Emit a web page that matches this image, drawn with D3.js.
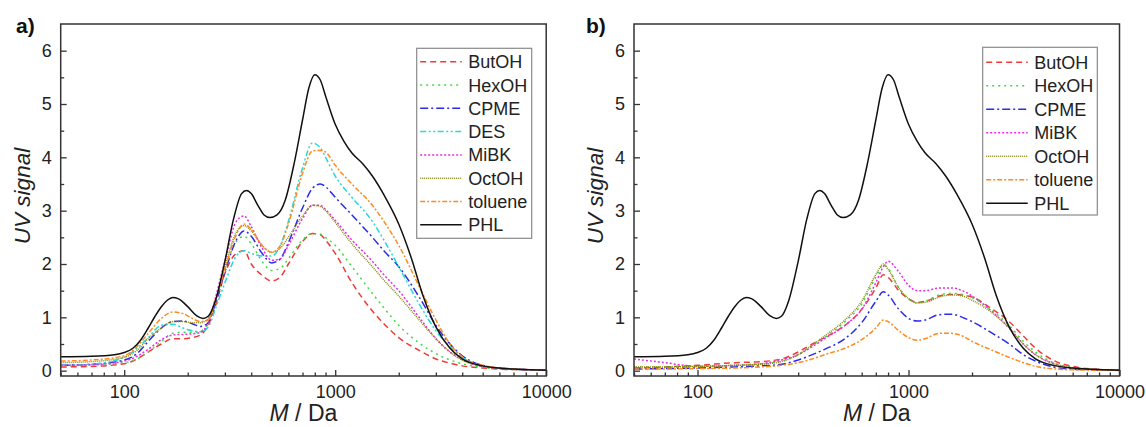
<!DOCTYPE html>
<html>
<head>
<meta charset="utf-8">
<script src="https://cdn.jsdelivr.net/npm/d3@7"></script>
<style>
  html, body { margin: 0; padding: 0; background: #fff; }
  svg { display: block; font-family: "Liberation Sans", Arial, sans-serif; }
</style>
</head>
<body>
<script>
// ---- DATA ----
const seriesNames = ['ButOH', 'HexOH', 'CPME', 'DES', 'MiBK', 'OctOH', 'toluene', 'PHL'];

// PHL (raw material) curve, shared by both panels
const phlMass = [50, 70, 90, 100, 110, 120, 130, 140, 150, 160, 170, 180, 200, 220, 236, 250, 270, 300, 330, 360, 380, 400, 430, 460, 490, 530, 580, 640, 700, 750, 800, 850, 900, 1000, 1100, 1200, 1350, 1500, 1700, 2000, 2300, 2600, 3000, 3500, 4000, 5000, 6000, 7000, 8000, 10000];
const phl = [0.26, 0.27, 0.30, 0.34, 0.42, 0.58, 0.80, 1.02, 1.20, 1.32, 1.37, 1.35, 1.20, 1.03, 0.98, 1.02, 1.30, 2.05, 2.85, 3.32, 3.38, 3.32, 3.10, 2.92, 2.87, 2.92, 3.20, 3.90, 4.70, 5.30, 5.55, 5.45, 5.15, 4.62, 4.30, 4.08, 3.88, 3.65, 3.30, 2.75, 2.10, 1.42, 0.82, 0.42, 0.22, 0.09, 0.05, 0.03, 0.02, 0.01];

// panel a)
const massA = [50, 70, 100, 115, 130, 150, 170, 190, 210, 230, 250, 270, 300, 340, 370, 400, 450, 500, 550, 600, 700, 780, 850, 900, 1000, 1200, 1500, 1700, 2000, 2500, 3000, 3500, 4000, 5000, 7000, 10000];
const butohA = [0.07, 0.08, 0.13, 0.22, 0.35, 0.50, 0.60, 0.60, 0.62, 0.67, 0.85, 1.20, 1.82, 2.20, 2.25, 2.00, 1.79, 1.68, 1.76, 2.00, 2.42, 2.57, 2.55, 2.45, 2.20, 1.65, 1.12, 0.88, 0.62, 0.38, 0.22, 0.14, 0.09, 0.05, 0.02, 0.01];
const hexohA = [0.10, 0.11, 0.15, 0.22, 0.35, 0.55, 0.70, 0.72, 0.72, 0.74, 0.90, 1.30, 1.90, 2.42, 2.52, 2.38, 2.05, 1.88, 1.92, 2.10, 2.45, 2.57, 2.56, 2.50, 2.35, 1.95, 1.45, 1.18, 0.85, 0.52, 0.32, 0.20, 0.13, 0.06, 0.02, 0.01];
const cpmeA = [0.10, 0.12, 0.20, 0.32, 0.55, 0.80, 0.92, 0.93, 0.88, 0.83, 0.90, 1.25, 1.85, 2.45, 2.62, 2.52, 2.20, 2.02, 2.10, 2.40, 3.05, 3.42, 3.50, 3.45, 3.25, 2.92, 2.50, 2.25, 1.95, 1.38, 0.85, 0.50, 0.28, 0.10, 0.03, 0.01];
const desA = [0.10, 0.12, 0.25, 0.42, 0.62, 0.85, 0.87, 0.80, 0.75, 0.73, 0.82, 1.15, 1.65, 2.15, 2.25, 2.20, 2.15, 2.15, 2.35, 2.80, 3.80, 4.27, 4.18, 4.00, 3.65, 3.25, 2.80, 2.45, 1.95, 1.25, 0.75, 0.45, 0.25, 0.09, 0.03, 0.01];
const mibkA = [0.10, 0.11, 0.18, 0.27, 0.40, 0.58, 0.67, 0.68, 0.69, 0.72, 0.90, 1.35, 2.05, 2.80, 2.90, 2.70, 2.30, 2.07, 2.10, 2.35, 2.85, 3.10, 3.10, 3.02, 2.82, 2.45, 2.05, 1.80, 1.50, 1.00, 0.60, 0.35, 0.20, 0.08, 0.03, 0.01];
const octohA = [0.15, 0.17, 0.25, 0.38, 0.60, 0.80, 0.92, 0.92, 0.90, 0.90, 0.98, 1.30, 1.95, 2.60, 2.72, 2.62, 2.35, 2.22, 2.30, 2.50, 2.90, 3.10, 3.08, 3.00, 2.78, 2.38, 1.95, 1.70, 1.40, 0.95, 0.60, 0.35, 0.20, 0.08, 0.03, 0.01];
const tolueneA = [0.18, 0.20, 0.28, 0.45, 0.70, 0.98, 1.10, 1.07, 0.98, 0.92, 0.95, 1.30, 1.90, 2.55, 2.75, 2.65, 2.35, 2.22, 2.35, 2.75, 3.70, 4.12, 4.13, 4.10, 3.85, 3.50, 3.10, 2.80, 2.35, 1.58, 0.95, 0.50, 0.26, 0.10, 0.03, 0.01];

// panel b)
const massB = [50, 70, 100, 150, 200, 250, 300, 350, 400, 500, 600, 700, 760, 800, 900, 1000, 1100, 1200, 1400, 1600, 1800, 2000, 2500, 3000, 3500, 4000, 5000, 6000, 7000, 10000];
const butohB = [0.05, 0.07, 0.10, 0.15, 0.17, 0.22, 0.35, 0.50, 0.62, 0.85, 1.15, 1.55, 1.80, 1.75, 1.50, 1.35, 1.28, 1.30, 1.40, 1.43, 1.42, 1.38, 1.15, 0.92, 0.65, 0.42, 0.17, 0.08, 0.04, 0.01];
const hexohB = [0.07, 0.07, 0.08, 0.10, 0.13, 0.18, 0.30, 0.48, 0.62, 0.92, 1.25, 1.75, 1.98, 1.92, 1.55, 1.35, 1.27, 1.30, 1.42, 1.45, 1.43, 1.37, 1.12, 0.85, 0.55, 0.35, 0.13, 0.06, 0.03, 0.01];
const cpmeB = [0.03, 0.04, 0.05, 0.07, 0.09, 0.12, 0.20, 0.30, 0.40, 0.60, 0.90, 1.30, 1.48, 1.42, 1.15, 0.98, 0.93, 0.95, 1.05, 1.06, 1.00, 0.92, 0.70, 0.50, 0.30, 0.18, 0.06, 0.03, 0.02, 0.01];
const mibkB = [0.22, 0.15, 0.08, 0.10, 0.13, 0.20, 0.30, 0.45, 0.60, 0.85, 1.15, 1.65, 1.95, 2.05, 1.85, 1.60, 1.50, 1.50, 1.55, 1.55, 1.50, 1.40, 1.10, 0.80, 0.50, 0.30, 0.12, 0.05, 0.03, 0.01];
const octohB = [0.07, 0.07, 0.08, 0.10, 0.12, 0.17, 0.30, 0.48, 0.65, 0.95, 1.30, 1.80, 2.00, 1.90, 1.55, 1.35, 1.27, 1.28, 1.38, 1.42, 1.40, 1.32, 1.08, 0.80, 0.50, 0.30, 0.12, 0.05, 0.03, 0.01];
const tolueneB = [0.03, 0.03, 0.04, 0.05, 0.07, 0.10, 0.15, 0.22, 0.30, 0.42, 0.58, 0.80, 0.95, 0.92, 0.75, 0.62, 0.57, 0.60, 0.70, 0.70, 0.65, 0.55, 0.38, 0.25, 0.15, 0.08, 0.03, 0.015, 0.01, 0.005];

const xMajor = [100, 1000, 10000];
const yMajor = [0, 1, 2, 3, 4, 5, 6];

// line styles (Origin-like)
const styles = {
  ButOH:   { color: '#f03a3a', dash: '6,4' },
  HexOH:   { color: '#3ddc3d', dash: '2,4' },
  CPME:    { color: '#2b2bea', dash: '8,3,2,3' },
  DES:     { color: '#22dada', dash: '6,2.5,2,2.5,2,2.5' },
  MiBK:    { color: '#ea2aea', dash: '2,2' },
  OctOH:   { color: '#8a8a12', dash: '1,1' },
  toluene: { color: '#ff8a1e', dash: '5,2,2,2' },
  PHL:     { color: '#111111', dash: null }
};

// ---- CHART ----
const W = 1146, H = 427;
const svg = d3.select('body').append('svg').attr('width', W).attr('height', H);

function drawPanel(cfg) {
  const left = cfg.left, right = cfg.left + 485.5, top = 24, bottom = 376;
  const x = d3.scaleLog().domain([50, 10000]).range([left, right]);
  const y = d3.scaleLinear().domain([-0.1, 6.5]).range([bottom, top]);
  const g = svg.append('g');

  const clipId = 'clip-' + cfg.tag;
  g.append('clipPath').attr('id', clipId)
    .append('rect').attr('x', left).attr('y', top).attr('width', right - left).attr('height', bottom - top);

  // minor ticks
  const xMinor = [];
  [10, 100, 1000].forEach(d => { for (let k = 2; k <= 9; k++) if (d * k >= 50) xMinor.push(d * k); });
  g.append('g').attr('transform', `translate(0,${bottom})`)
    .call(d3.axisBottom(x).tickValues(xMinor).tickSize(-3.5).tickFormat(''))
    .call(a => a.select('.domain').remove());
  g.append('g').attr('transform', `translate(${left},0)`)
    .call(d3.axisLeft(y).tickValues(d3.range(0.5, 6.5, 1)).tickSize(-3.5).tickFormat(''))
    .call(a => a.select('.domain').remove());

  // major ticks
  const xAx = g.append('g').attr('transform', `translate(0,${bottom})`)
    .call(d3.axisBottom(x).tickValues(xMajor).tickSize(-6).tickPadding(9).tickFormat(d3.format('d')));
  const yAx = g.append('g').attr('transform', `translate(${left},0)`)
    .call(d3.axisLeft(y).tickValues(yMajor).tickSize(-6).tickPadding(9).tickFormat(d3.format('d')));
  [xAx, yAx].forEach(a => {
    a.select('.domain').remove();
    a.selectAll('text').attr('font-size', 18).attr('fill', '#222').attr('font-family', '"Liberation Sans", Arial, sans-serif');
  });
  g.selectAll('.tick line').attr('stroke', '#333').attr('stroke-width', 1.3);

  // curves
  const line = d3.line().x(d => x(d[0])).y(d => y(d[1])).curve(d3.curveMonotoneX);
  const lines = g.append('g').attr('clip-path', `url(#${clipId})`);
  cfg.series.forEach(s => {
    const st = styles[s.name];
    lines.append('path')
      .datum(s.mass.map((m, i) => [m, s.values[i]]))
      .attr('d', line)
      .attr('fill', 'none')
      .attr('stroke', st.color)
      .attr('stroke-width', 1.5)
      .attr('stroke-dasharray', st.dash);
  });

  // frame
  g.append('rect').attr('x', left).attr('y', top).attr('width', right - left).attr('height', bottom - top)
    .attr('fill', 'none').attr('stroke', '#333').attr('stroke-width', 1.5);

  // legend
  const lg = cfg.legend;
  g.append('rect').attr('x', lg.x).attr('y', lg.y).attr('width', lg.w).attr('height', lg.h)
    .attr('fill', '#fff').attr('stroke', '#8a8a8a').attr('stroke-width', 1.2);
  cfg.series.forEach((s, i) => {
    const st = styles[s.name];
    const ry = lg.row0 + i * lg.step;
    g.append('line').attr('x1', lg.x + 3.5).attr('x2', lg.x + 45).attr('y1', ry).attr('y2', ry)
      .attr('stroke', st.color).attr('stroke-width', 1.5).attr('stroke-dasharray', st.dash);
    g.append('text').attr('x', lg.x + 51.5).attr('y', ry + 6.5)
      .attr('font-size', 18).attr('fill', '#222').text(s.name);
  });

  // axis titles
  g.append('text').attr('x', (left + right) / 2).attr('y', 421).attr('text-anchor', 'middle')
    .attr('font-size', 23).attr('fill', '#222')
    .call(t => {
      t.append('tspan').attr('font-style', 'italic').text('M');
      t.append('tspan').text(' / Da');
    });
  g.append('text').attr('transform', `translate(${left - 31},196) rotate(-90)`).attr('text-anchor', 'middle')
    .attr('font-size', 22.5).attr('font-style', 'italic').attr('fill', '#222').text('UV signal');

  // panel label
  g.append('text').attr('x', cfg.labelX).attr('y', 33).attr('font-size', 21).attr('font-weight', 'bold')
    .attr('fill', '#111').text(cfg.tag + ')');
}

drawPanel({
  tag: 'a', left: 60.7, labelX: 16,
  legend: { x: 416.7, y: 48.3, w: 115, h: 190, row0: 61.7, step: 23.3 },
  series: [
    { name: 'ButOH', mass: massA, values: butohA },
    { name: 'HexOH', mass: massA, values: hexohA },
    { name: 'CPME', mass: massA, values: cpmeA },
    { name: 'DES', mass: massA, values: desA },
    { name: 'MiBK', mass: massA, values: mibkA },
    { name: 'OctOH', mass: massA, values: octohA },
    { name: 'toluene', mass: massA, values: tolueneA },
    { name: 'PHL', mass: phlMass, values: phl }
  ]
});

drawPanel({
  tag: 'b', left: 634, labelX: 586,
  legend: { x: 982.7, y: 47.3, w: 114.6, h: 167.7, row0: 62.3, step: 23.5 },
  series: [
    { name: 'ButOH', mass: massB, values: butohB },
    { name: 'HexOH', mass: massB, values: hexohB },
    { name: 'CPME', mass: massB, values: cpmeB },
    { name: 'MiBK', mass: massB, values: mibkB },
    { name: 'OctOH', mass: massB, values: octohB },
    { name: 'toluene', mass: massB, values: tolueneB },
    { name: 'PHL', mass: phlMass, values: phl }
  ]
});
</script>
</body>
</html>
